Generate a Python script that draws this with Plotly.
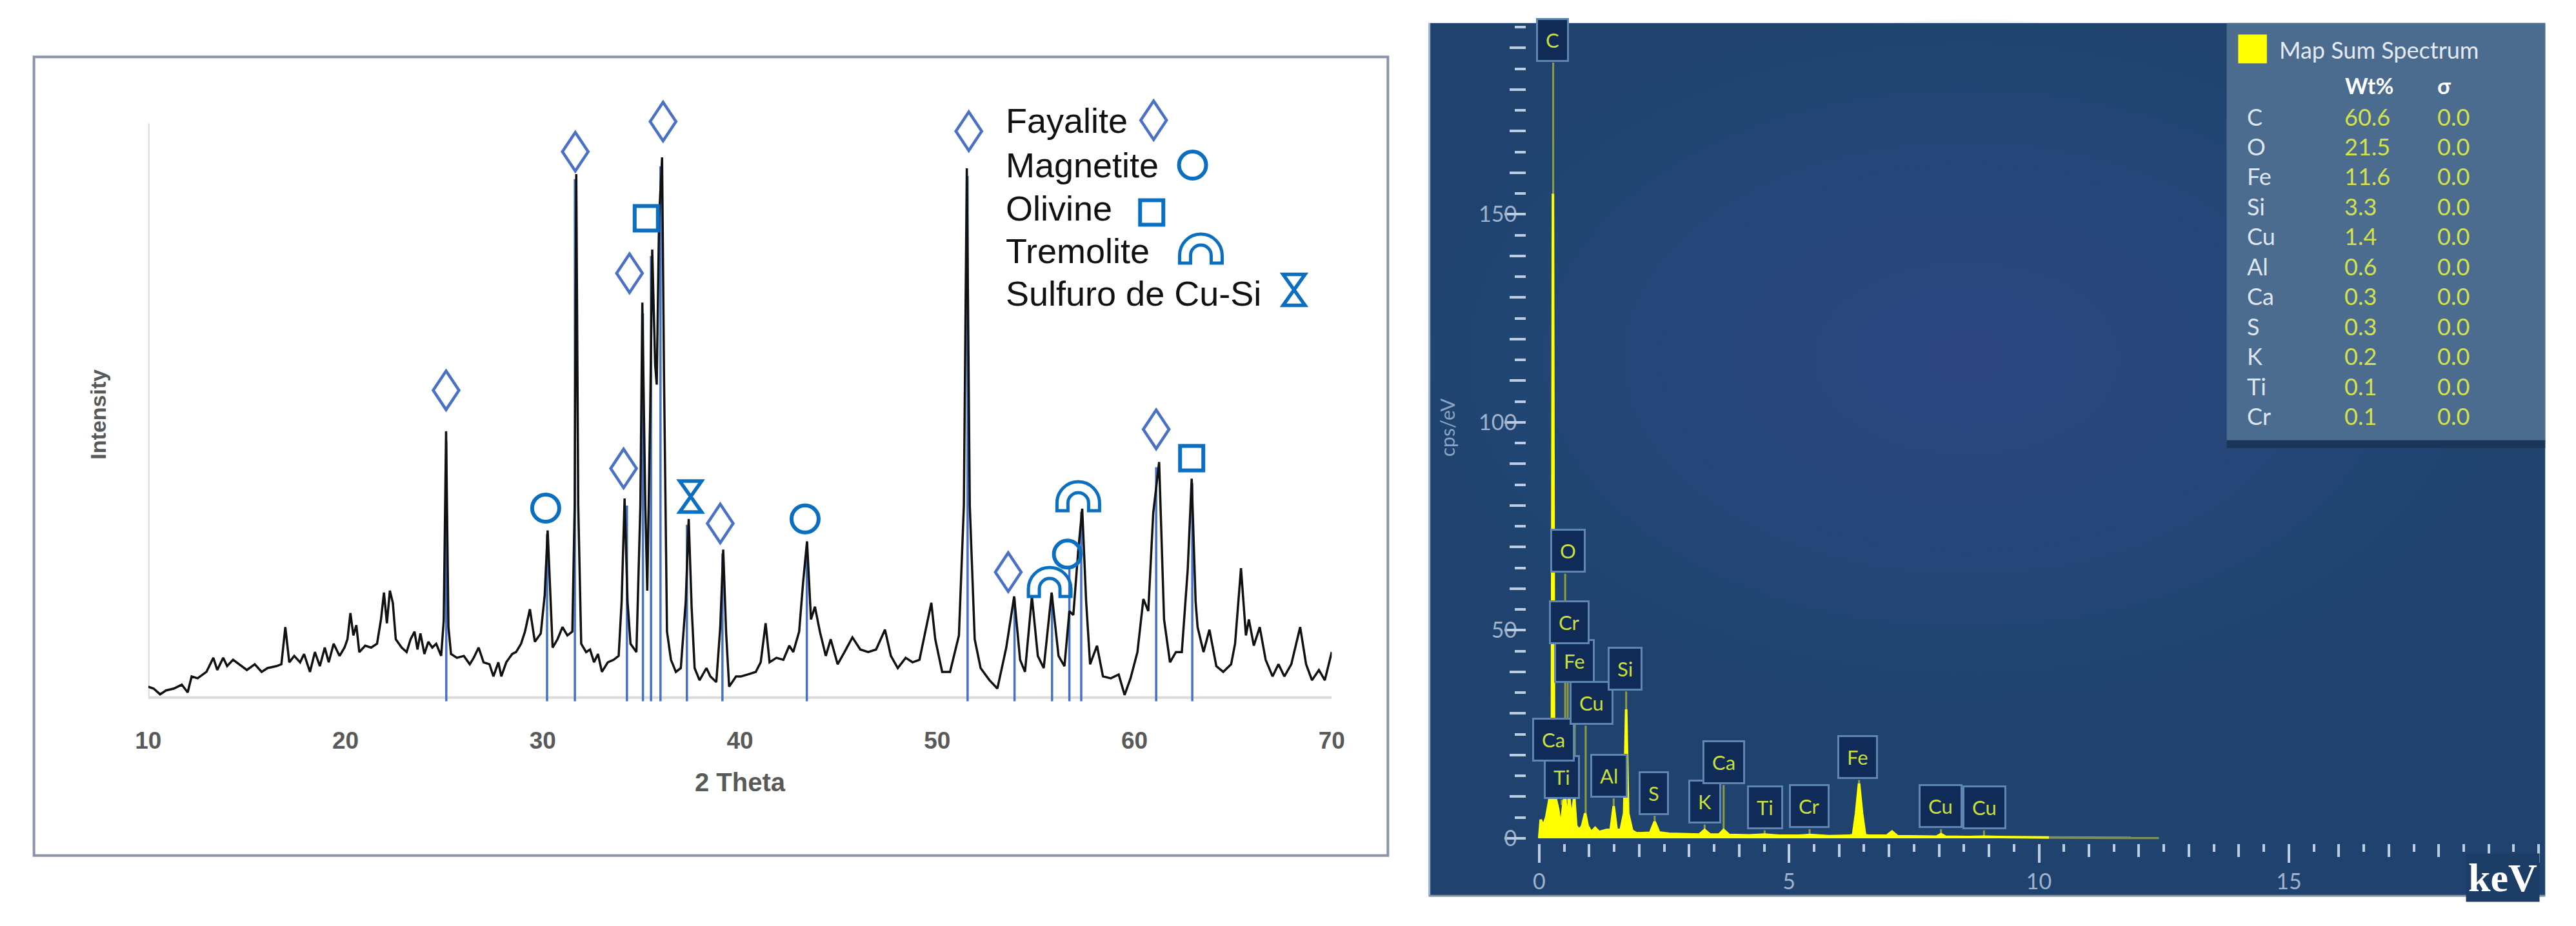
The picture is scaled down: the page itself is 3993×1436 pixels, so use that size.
import plotly.graph_objects as go

W, H = 3993, 1436

# ---------------- XRD pattern (2 Theta, intensity in a.u.) ----------------
xrd_theta = [10.0, 10.27, 10.6, 10.9, 11.3, 11.7, 12.0, 12.2, 12.5, 12.95, 13.3, 13.5, 13.8, 14.0, 14.3,
             14.6, 15.0, 15.4, 15.75, 16.05, 16.5, 16.75, 16.95, 17.15, 17.4, 17.7, 17.9, 18.2, 18.45,
             18.7, 18.95, 19.15, 19.4, 19.7, 19.95, 20.1, 20.25, 20.4, 20.55, 20.7, 21.0, 21.3, 21.6,
             21.8, 21.95, 22.1, 22.25, 22.4, 22.55, 22.85, 23.1, 23.3, 23.5, 23.65, 23.8, 24.0, 24.2,
             24.4, 24.6, 24.85, 24.98, 25.1, 25.22, 25.35, 25.65, 26.0, 26.3, 26.5, 26.75, 27.0, 27.3,
             27.5, 27.75, 27.9, 28.15, 28.45, 28.65, 28.9, 29.1, 29.35, 29.6, 29.9, 30.1, 30.25, 30.4,
             30.5, 30.75, 31.0, 31.25, 31.5, 31.62, 31.7, 31.8, 31.95, 32.2, 32.4, 32.6, 32.8, 33.0,
             33.3, 33.6, 33.85, 34.0, 34.15, 34.3, 34.45, 34.75, 34.95, 35.05, 35.2, 35.3, 35.45, 35.55,
             35.7, 35.78, 35.9, 36.05, 36.15, 36.3, 36.5, 36.75, 37.0, 37.25, 37.4, 37.55, 37.7, 37.95,
             38.3, 38.5, 38.8, 39.0, 39.15, 39.3, 39.45, 39.8, 40.05, 40.4, 40.8, 41.05, 41.3, 41.5,
             41.85, 42.2, 42.5, 42.7, 43.0, 43.2, 43.4, 43.6, 43.8, 44.05, 44.35, 44.6, 44.95, 45.3,
             45.7, 46.1, 46.5, 46.9, 47.35, 47.65, 48.0, 48.4, 48.75, 49.1, 49.45, 49.7, 49.9, 50.25,
             50.65, 51.1, 51.35, 51.5, 51.65, 51.9, 52.2, 52.65, 53.05, 53.5, 53.9, 54.2, 54.45, 54.8,
             55.1, 55.4, 55.8, 56.15, 56.45, 56.7, 56.9, 57.15, 57.35, 57.55, 57.75, 58.1, 58.4, 58.8,
             59.2, 59.5, 59.8, 60.15, 60.45, 60.7, 60.95, 61.25, 61.5, 61.8, 62.1, 62.4, 62.7, 62.9,
             63.1, 63.2, 63.5, 63.8, 64.15, 64.5, 64.9, 65.1, 65.4, 65.65, 65.8, 66.05, 66.35, 66.65,
             67.0, 67.3, 67.6, 67.95, 68.4, 68.7, 69.0, 69.35, 69.65, 70.0]
xrd_int = [17, 14, 5, 11, 14, 20, 8, 33, 30, 40, 62, 43, 62, 49, 59,
           52, 43, 52, 40, 46, 49, 52, 110, 55, 65, 55, 68, 40, 71,
           49, 78, 55, 84, 65, 78, 91, 132, 97, 113, 71, 81, 78, 84,
           122, 164, 116, 167, 148, 91, 78, 71, 91, 103, 75, 100, 68, 87,
           78, 84, 65, 120, 416, 110, 68, 62, 65, 52, 62, 78, 55, 52,
           33, 55, 33, 55, 68, 71, 84, 103, 138, 87, 100, 160, 261, 150,
           78, 91, 110, 97, 103, 300, 818, 300, 84, 71, 75, 55, 68, 40,
           55, 59, 65, 150, 311, 150, 84, 71, 300, 617, 300, 167, 450, 700,
           520, 489, 750, 844, 500, 103, 59, 40, 46, 150, 279, 140, 46, 27,
           46, 33, 24, 110, 231, 100, 17, 33, 33, 36, 40, 55, 116, 55,
           62, 59, 81, 71, 103, 180, 244, 122, 142, 103, 65, 91, 52, 71,
           94, 75, 71, 75, 106, 65, 46, 62, 55, 59, 110, 148, 91, 40,
           40, 97, 300, 827, 300, 91, 46, 27, 14, 78, 158, 59, 40, 158,
           65, 46, 164, 65, 49, 135, 129, 230, 295, 150, 52, 81, 33, 30,
           36, 4, 30, 71, 154, 135, 288, 368, 122, 55, 71, 71, 200, 342,
           150, 110, 71, 106, 49, 40, 52, 84, 202, 97, 122, 81, 110, 59,
           33, 52, 33, 52, 110, 52, 27, 43, 27, 71]

# reference stick lines (2 Theta, height)
stick_theta = [25.11, 30.22, 31.63, 34.27, 35.08, 35.49, 35.97, 37.31, 39.11, 43.39,
               51.54, 53.92, 55.82, 56.7, 57.3, 61.1, 62.93]
stick_top = [400, 255, 810, 300, 600, 690, 830, 270, 225, 240,
             815, 155, 160, 205, 290, 360, 335]

# phase markers (2 Theta, marker height)
fay_theta = [25.1, 31.65, 34.1, 34.4, 36.1, 39.0, 51.6, 53.6, 61.1]
fay_y = [480, 853, 358, 663, 900, 272, 885, 196, 419]
mag_theta = [30.15, 43.3, 56.6]
mag_y = [296, 279, 224]
oli_theta = [35.25, 62.9]
oli_y = [749, 374]
tre_theta = [55.7, 57.15]
tre_y = [180, 314]
sul_theta = [37.5]
sul_y = [314]

legend_names = ["Fayalite", "Magnetite", "Olivine", "Tremolite", "Sulfuro de Cu-Si"]
xrd_ticks = [10, 20, 30, 40, 50, 60, 70]

# ---------------- EDS spectrum (keV, cps/eV) ----------------
eds_kev = [0.0, 0.03, 0.08, 0.14, 0.2, 0.235, 0.255, 0.275, 0.295, 0.315, 0.33, 0.38, 0.43, 0.49, 0.52,
           0.56, 0.6, 0.65, 0.7, 0.74, 0.8, 0.86, 0.92, 0.97, 1.04, 1.12, 1.2, 1.27, 1.35, 1.43,
           1.49, 1.55, 1.63, 1.7, 1.74, 1.78, 1.86, 1.95, 2.1, 2.22, 2.31, 2.4, 2.6, 2.9, 3.2,
           3.31, 3.42, 3.6, 3.69, 3.8, 4.2, 4.51, 4.8, 5.2, 5.41, 5.8, 6.2, 6.28, 6.34, 6.4,
           6.46, 6.52, 6.6, 6.95, 7.06, 7.17, 7.6, 7.95, 8.04, 8.13, 8.6, 8.9, 9.2, 9.6, 10.2]
eds_cps = [0.0, 4.5, 3.0, 5.0, 9.0, 12.0, 30.0, 155.0, 30.0, 11.0, 9.5, 7.0, 2.5, 9.0, 10.0,
           3.5, 10.0, 4.0, 10.0, 3.0, 2.0, 3.0, 6.0, 3.0, 1.5, 2.5, 1.5, 1.8, 2.0, 2.0,
           7.7, 2.0, 2.0, 6.0, 31.0, 6.0, 1.8, 1.2, 1.2, 1.3, 4.0, 1.4, 1.1, 1.0, 0.9,
           2.0, 0.9, 0.9, 2.0, 0.8, 0.7, 0.9, 0.6, 0.6, 0.8, 0.5, 0.6, 0.8, 6.0, 13.2,
           6.0, 0.8, 0.6, 0.6, 1.6, 0.5, 0.4, 0.4, 1.0, 0.4, 0.3, 0.4, 0.3, 0.25, 0.2]
tail_kev = [10.2, 11.0, 12.4]
tail_cps = [0.2, 0.15, 0.1]

lab_el = ["Ti", "Ca", "Cu", "Fe", "Cr", "O", "C", "Si", "Al", "S", "K", "Ca", "Ti", "Cr", "Fe", "Cu", "Cu"]
lab_kev = [0.45, 0.34, 0.93, 0.71, 0.57, 0.52, 0.28, 1.74, 1.49, 2.31, 3.31, 3.69, 4.51, 5.41, 6.40, 8.04, 8.90]
lab_tip = [8.0, 8.0, 6.0, 9.0, 9.0, 9.0, 155.0, 31.0, 7.7, 4.0, 2.0, 2.0, 0.9, 0.8, 13.2, 1.0, 0.4]
lab_bx = [0.45, 0.29, 1.05, 0.70, 0.60, 0.575, 0.27, 1.72, 1.39, 2.29, 3.31, 3.69, 4.52, 5.40, 6.37, 8.03, 8.91]
lab_by = [14.8, 23.7, 32.6, 42.6, 52.0, 69.1, 192.0, 40.8, 15.1, 10.9, 8.8, 18.3, 7.4, 7.7, 19.5, 7.7, 7.4]

tab_el = ["C", "O", "Fe", "Si", "Cu", "Al", "Ca", "S", "K", "Ti", "Cr"]
tab_wt = ["60.6", "21.5", "11.6", "3.3", "1.4", "0.6", "0.3", "0.3", "0.2", "0.1", "0.1"]
tab_sig = ["0.0", "0.0", "0.0", "0.0", "0.0", "0.0", "0.0", "0.0", "0.0", "0.0", "0.0"]


def px(x):
    return x / W


def py(y):
    return 1 - y / H


# ---------------- symbol paths (pixel units, y up) ----------------
K = 0.5523


def diamond_path():
    return "M0,30 L20,0 L0,-30 L-20,0 Z"


def hourglass_path():
    return "M-17,24 L17,24 L-17,-24 L17,-24 Z"


def arch_path():
    R, r, L, s = 33, 16, 12, -10
    return (f"M{-R},{-L+s} L{-R},{s} C{-R},{K*R+s} {-K*R},{R+s} 0,{R+s} "
            f"C{K*R},{R+s} {R},{K*R+s} {R},{s} L{R},{-L+s} L{r},{-L+s} L{r},{s} "
            f"C{r},{K*r+s} {K*r},{r+s} 0,{r+s} C{-K*r},{r+s} {-r},{K*r+s} {-r},{s} L{-r},{-L+s} Z")


DIA_C = "#4a70c8"
SYM_C = "#0a6fc0"


def sym_shapes(kind, xa, ya, xref, yref):
    base = dict(xref=xref, yref=yref, xsizemode="pixel", ysizemode="pixel", xanchor=xa, yanchor=ya,
                layer="above", fillcolor="rgba(0,0,0,0)")
    if kind == "diamond":
        return dict(type="path", path=diamond_path(), line=dict(color=DIA_C, width=4.5), **base)
    if kind == "circle":
        return dict(type="circle", x0=-21, x1=21, y0=-21, y1=21, line=dict(color=SYM_C, width=6), **base)
    if kind == "square":
        return dict(type="rect", x0=-18, x1=18, y0=-19, y1=19, line=dict(color=SYM_C, width=6), **base)
    if kind == "arch":
        return dict(type="path", path=arch_path(), line=dict(color=SYM_C, width=5), **base)
    return dict(type="path", path=hourglass_path(), line=dict(color=SYM_C, width=5.5), **base)


def txt(text, x, y, size, color, family="Lato, Noto Sans", xanchor="center", yanchor="middle", **kw):
    return dict(text=text, x=px(x), y=py(y), xref="paper", yref="paper", xanchor=xanchor, yanchor=yanchor,
                showarrow=False, font=dict(family=family, size=size, color=color), **kw)


fig = go.Figure()

# ---- XRD traces ----
sx, sy = [], []
for t, h in zip(stick_theta, stick_top):
    sx += [t, t, None]
    sy += [-6, h, None]
fig.add_trace(go.Scatter(x=sx, y=sy, mode="lines", line=dict(color="#4472c4", width=3.5),
                         xaxis="x", yaxis="y", hoverinfo="skip", showlegend=False))
fig.add_trace(go.Scatter(x=xrd_theta, y=xrd_int, mode="lines", line=dict(color="#111111", width=3.5),
                         xaxis="x", yaxis="y", hoverinfo="skip", showlegend=False))

# ---- EDS traces ----
ptx, pty = [], []
for k, tip, by in zip(lab_kev, lab_tip, lab_by):
    ptx += [k, k, None]
    pty += [tip, by - 5.5, None]
fig.add_trace(go.Scatter(x=ptx, y=pty, mode="lines", line=dict(color="#8e9d45", width=3),
                         xaxis="x2", yaxis="y2", hoverinfo="skip", showlegend=False))
fig.add_trace(go.Scatter(x=tail_kev, y=tail_cps, mode="lines", line=dict(color="#7d8f5a", width=4),
                         xaxis="x2", yaxis="y2", hoverinfo="skip", showlegend=False))
fig.add_trace(go.Scatter(x=eds_kev, y=eds_cps, mode="lines", fill="tozeroy", fillcolor="#ffff00",
                         line=dict(color="#ffff00", width=4), xaxis="x2", yaxis="y2",
                         hoverinfo="skip", showlegend=False))
fig.add_trace(go.Scatter(x=[None], y=[None], xaxis="x3", yaxis="y3", showlegend=False, hoverinfo="skip"))

shapes = []
# right panel background with soft radial glow
shapes.append(dict(type="rect", xref="paper", yref="paper", x0=px(2217), x1=px(3966), y0=py(1400), y1=py(36),
                   fillcolor="#1f436e", line=dict(width=0), layer="below"))
n_glow = 14
for i in range(n_glow):
    f = 1 - i / n_glow
    rx, ry = 840 * f, 530 * f
    cx, cy = 3060, 560
    shapes.append(dict(type="circle", xref="paper", yref="paper", x0=px(cx - rx), x1=px(cx + rx),
                       y0=py(cy + ry), y1=py(cy - ry), fillcolor="#3a6898", opacity=0.045,
                       line=dict(width=0), layer="below"))
shapes.append(dict(type="line", xref="paper", yref="paper", x0=px(2218), x1=px(2218), y0=py(1400), y1=py(36),
                   line=dict(color="#9ab4d2", width=3), layer="below"))
shapes.append(dict(type="line", xref="paper", yref="paper", x0=px(2217), x1=px(3966), y0=py(1400), y1=py(1400),
                   line=dict(color="#8795a6", width=3), layer="below"))
# left panel frame and axis lines
shapes.append(dict(type="rect", xref="paper", yref="paper", x0=px(32), x1=px(2153), y0=py(1337), y1=py(89),
                   line=dict(color="#8a93a9", width=4), fillcolor="rgba(0,0,0,0)", layer="below"))
shapes.append(dict(type="line", xref="x", yref="y", x0=10, x1=70, y0=0, y1=0,
                   line=dict(color="#dadada", width=4), layer="below"))
shapes.append(dict(type="line", xref="x", yref="y", x0=10, x1=10, y0=0, y1=897,
                   line=dict(color="#dadada", width=4), layer="below"))
# table box
shapes.append(dict(type="rect", xref="paper", yref="paper", x0=px(3467), x1=px(3966), y0=py(690), y1=py(36),
                   fillcolor="#4b6b8f", line=dict(width=0), layer="above"))
shapes.append(dict(type="rect", xref="paper", yref="paper", x0=px(3467), x1=px(3966), y0=py(700), y1=py(688),
                   fillcolor="#1a3558", line=dict(width=0), layer="above"))
shapes.append(dict(type="rect", xref="paper", yref="paper", x0=px(3485), x1=px(3530), y0=py(99), y1=py(54),
                   fillcolor="#ffff00", line=dict(width=0), layer="above"))

# phase symbols on the XRD chart
for t, h in zip(fay_theta, fay_y):
    shapes.append(sym_shapes("diamond", t, h, "x", "y"))
for t, h in zip(mag_theta, mag_y):
    shapes.append(sym_shapes("circle", t, h, "x", "y"))
for t, h in zip(oli_theta, oli_y):
    shapes.append(sym_shapes("square", t, h, "x", "y"))
for t, h in zip(tre_theta, tre_y):
    shapes.append(sym_shapes("arch", t, h, "x", "y"))
for t, h in zip(sul_theta, sul_y):
    shapes.append(sym_shapes("hourglass", t, h, "x", "y"))

# legend of phases
leg_kinds = ["diamond", "circle", "square", "arch", "hourglass"]
leg_sym_xy = [(1786, 188), (1847, 258), (1783, 332), (1860, 389), (2006, 453)]
leg_text_y = [188, 258, 325, 392, 459]
for kind, (lx, ly) in zip(leg_kinds, leg_sym_xy):
    shapes.append(sym_shapes(kind, px(lx), py(ly), "paper", "paper"))

ann = []
for name, ly in zip(legend_names, leg_text_y):
    ann.append(txt(name, 1552, ly, 54, "#111111", family="Liberation Sans, Arial", xanchor="left"))
ann.append(txt("<b>Intensity</b>", 132, 648, 34, "#595959", family="Liberation Sans, Arial", textangle=-90))
ann.append(txt("<b>2 Theta</b>", 1138, 1222, 40, "#595959", family="Liberation Sans, Arial"))

# EDS element labels
for el, bx, by in zip(lab_el, lab_bx, lab_by):
    ann.append(dict(text=el, x=bx, y=by, xref="x2", yref="y2", xanchor="center", yanchor="middle",
                    showarrow=False, bgcolor="#102b58", bordercolor="#5f86b0", borderwidth=3, borderpad=12,
                    font=dict(family="Lato, Noto Sans", size=31, color="#c9df3c")))
ann.append(txt("cps/eV", 2246, 668, 30, "#8aa3c3", textangle=-90))
ann.append(txt("<b>keV</b>", 3900, 1372, 62, "#ffffff", family="Liberation Serif, Times New Roman",
               bgcolor="#1c3d66", borderpad=3))

# table text
ann.append(txt("Map Sum Spectrum", 3547, 78, 36, "#e3eaf3", xanchor="left"))
ann.append(txt("<b>Wt%</b>", 3690, 134, 34, "#ffffff"))
ann.append(txt("<b>σ</b>", 3808, 134, 34, "#ffffff"))
for i, (el, wt, sg) in enumerate(zip(tab_el, tab_wt, tab_sig)):
    ry = 182 + 46.8 * i
    ann.append(txt(el, 3497, ry, 36, "#dde6ef", xanchor="left"))
    ann.append(txt(wt, 3649, ry, 36, "#d2e24c", xanchor="left"))
    ann.append(txt(sg, 3795, ry, 36, "#d2e24c", xanchor="left"))

TICKC = "#bccde2"
fig.update_layout(
    width=W, height=H, autosize=False,
    margin=dict(l=0, r=0, t=0, b=0, pad=0),
    paper_bgcolor="#ffffff", plot_bgcolor="rgba(0,0,0,0)",
    showlegend=False,
    xaxis=dict(domain=[px(211), px(2065)], range=[10, 70], anchor="y", tickmode="array", tickvals=xrd_ticks,
               ticks="outside", ticklen=24, tickcolor="rgba(0,0,0,0)", showgrid=False, zeroline=False,
               showline=False, tickfont=dict(family="Liberation Sans, Arial", size=37, color="#595959",
                                             weight="bold")),
    yaxis=dict(domain=[py(1100), py(100)], range=[-10, 990], anchor="x", visible=False),
    xaxis2=dict(domain=[px(2370), px(3966)], range=[-0.256, 20.13], anchor="y2", tickmode="linear", tick0=0,
                dtick=5, ticks="outside", ticklen=29, tickwidth=4, tickcolor=TICKC, showgrid=False,
                zeroline=False, showline=False, labelalias={"20": " "},
                minor=dict(tickmode="linear", tick0=0, dtick=0.5, ticks="outside", ticklen=12, tickwidth=4,
                           tickcolor=TICKC, showgrid=False),
                tickfont=dict(family="Lato, Noto Sans", size=34, color="#9fb3cc")),
    yaxis2=dict(domain=[py(1318), py(36)], range=[-1.23, 196], anchor="x2", tickmode="linear", tick0=0,
                dtick=50, ticks="outside", ticklen=33, tickwidth=4, tickcolor=TICKC, showgrid=False,
                zeroline=False, showline=False, ticklabelstandoff=-26,
                minor=dict(tickmode="linear", tick0=0, dtick=5, ticks="outside", ticklen=17, tickwidth=4,
                           tickcolor=TICKC, showgrid=False),
                tickfont=dict(family="Lato, Noto Sans", size=34, color="#9fb3cc")),
    xaxis3=dict(overlaying="x2", range=[-0.256, 20.13], anchor="y3", side="bottom", tickmode="linear",
                tick0=0, dtick=1, ticks="outside", ticklen=20, tickwidth=4, tickcolor=TICKC,
                showticklabels=False, showgrid=False, zeroline=False, showline=False),
    yaxis3=dict(overlaying="y2", range=[-1.23, 196], anchor="x3", side="left", tickmode="linear",
                tick0=0, dtick=10, ticks="outside", ticklen=25, tickwidth=4, tickcolor=TICKC,
                showticklabels=False, showgrid=False, zeroline=False, showline=False),
    shapes=shapes,
    annotations=ann,
)

fig.write_html("out.html", config={"displayModeBar": False},
               post_script="document.body.style.margin='0';document.body.style.overflow='hidden';")
